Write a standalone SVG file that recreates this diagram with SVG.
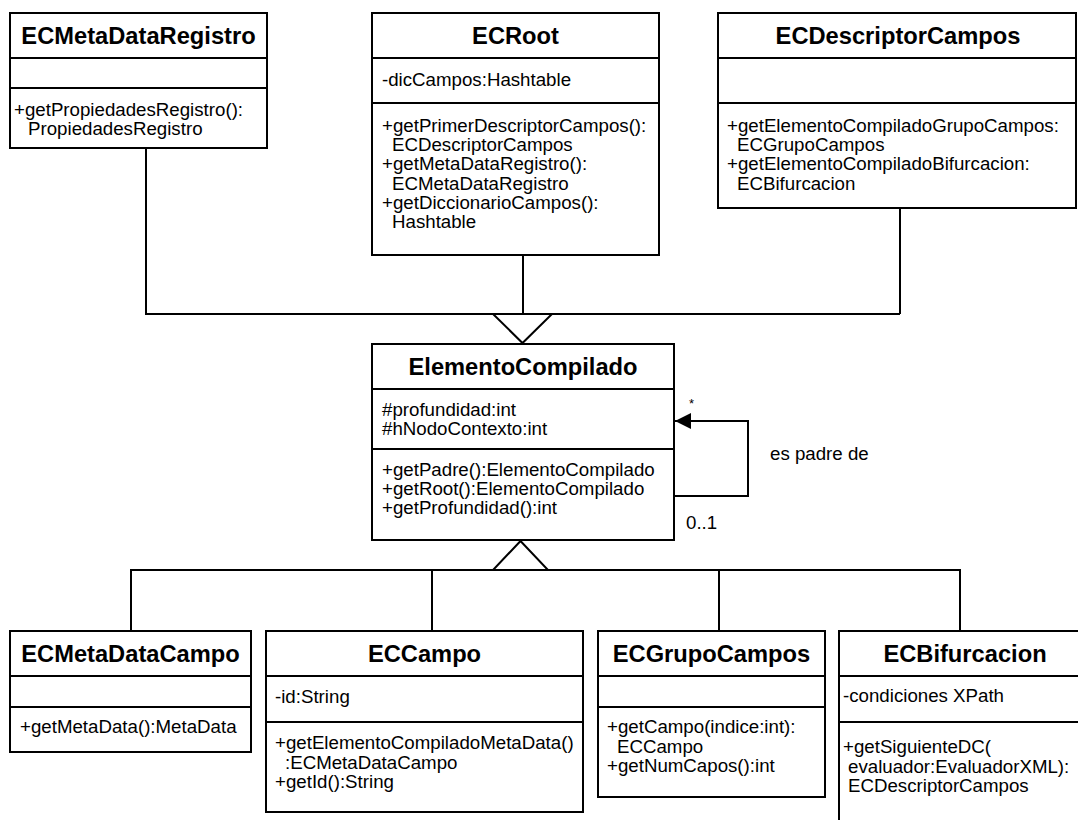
<svg xmlns="http://www.w3.org/2000/svg" width="1078" height="820" viewBox="0 0 1078 820">
<defs>
<style>
.box{fill:#fff;stroke:#000;stroke-width:2}
.ln{fill:none;stroke:#000;stroke-width:2}
.tri{fill:#fff;stroke:#000;stroke-width:2}
.t{font-family:"Liberation Sans",Arial,sans-serif;font-size:23.7px;font-weight:bold;text-anchor:middle;fill:#000}
.m{font-family:"Liberation Sans",Arial,sans-serif;font-size:18.7px;fill:#000}
.s{font-family:"Liberation Sans",Arial,sans-serif;font-size:13px;fill:#000}
</style>
<marker id="arr" markerWidth="16" markerHeight="16" refX="16" refY="8" orient="auto" markerUnits="userSpaceOnUse">
<path d="M0,0 L16,8 L0,16 Z" fill="#000"/>
</marker>
</defs>
<rect width="1078" height="820" fill="#fff"/>

<g id="connectors">
<polyline class="ln" points="146,148 146,314 900,314"/>
<line class="ln" x1="523" y1="255" x2="523" y2="314"/>
<line class="ln" x1="900" y1="208" x2="900" y2="314"/>
<polygon class="tri" points="493,314 552,314 522.5,343"/>
<polyline class="ln" points="131,631 131,570 960,570 960,631"/>
<line class="ln" x1="432" y1="570" x2="432" y2="631"/>
<line class="ln" x1="719" y1="570" x2="719" y2="631"/>
<polygon class="tri" points="493,570 548,570 520.5,541"/>
<polyline class="ln" points="674,496 748,496 748,421 675,421" marker-end="url(#arr)"/>
<text class="s" x="689" y="407.5">*</text>
<text class="m" x="770" y="460">es padre de</text>
<text class="m" x="686" y="529">0..1</text>
</g>

<g id="ECMetaDataRegistro">
<rect class="box" x="10" y="13" width="257" height="135"/>
<line class="ln" x1="10" y1="58" x2="267" y2="58"/>
<line class="ln" x1="10" y1="88" x2="267" y2="88"/>
<text class="t" x="138.5" y="44">ECMetaDataRegistro</text>
<text class="m" x="14" y="116">+getPropiedadesRegistro():</text>
<text class="m" x="28" y="135">PropiedadesRegistro</text>
</g>

<g id="ECRoot">
<rect class="box" x="372" y="13" width="287" height="242"/>
<line class="ln" x1="372" y1="58" x2="659" y2="58"/>
<line class="ln" x1="372" y1="103" x2="659" y2="103"/>
<text class="t" x="515.5" y="44">ECRoot</text>
<text class="m" x="382" y="86">-dicCampos:Hashtable</text>
<text class="m" x="382" y="132">+getPrimerDescriptorCampos():</text>
<text class="m" x="392" y="151">ECDescriptorCampos</text>
<text class="m" x="382" y="170">+getMetaDataRegistro():</text>
<text class="m" x="392" y="189.5">ECMetaDataRegistro</text>
<text class="m" x="382" y="208.5">+getDiccionarioCampos():</text>
<text class="m" x="392" y="228">Hashtable</text>
</g>

<g id="ECDescriptorCampos">
<rect class="box" x="718" y="13" width="358" height="195"/>
<line class="ln" x1="718" y1="58" x2="1076" y2="58"/>
<line class="ln" x1="718" y1="103" x2="1076" y2="103"/>
<text class="t" x="898" y="44">ECDescriptorCampos</text>
<text class="m" x="727" y="132">+getElementoCompiladoGrupoCampos:</text>
<text class="m" x="737" y="151">ECGrupoCampos</text>
<text class="m" x="727" y="170">+getElementoCompiladoBifurcacion:</text>
<text class="m" x="737" y="189.5">ECBifurcacion</text>
</g>

<g id="ElementoCompilado">
<rect class="box" x="372" y="344" width="302" height="196"/>
<line class="ln" x1="372" y1="389" x2="674" y2="389"/>
<line class="ln" x1="372" y1="449" x2="674" y2="449"/>
<text class="t" x="523" y="375">ElementoCompilado</text>
<text class="m" x="382" y="416">#profundidad:int</text>
<text class="m" x="382" y="435">#hNodoContexto:int</text>
<text class="m" x="382" y="476">+getPadre():ElementoCompilado</text>
<text class="m" x="382" y="495">+getRoot():ElementoCompilado</text>
<text class="m" x="382" y="514">+getProfundidad():int</text>
</g>

<g id="ECMetaDataCampo">
<rect class="box" x="10" y="631" width="241" height="121"/>
<line class="ln" x1="10" y1="676" x2="251" y2="676"/>
<line class="ln" x1="10" y1="707" x2="251" y2="707"/>
<text class="t" x="130.5" y="662">ECMetaDataCampo</text>
<text class="m" x="20" y="733">+getMetaData():MetaData</text>
</g>

<g id="ECCampo">
<rect class="box" x="266" y="631" width="317" height="181"/>
<line class="ln" x1="266" y1="676" x2="583" y2="676"/>
<line class="ln" x1="266" y1="722" x2="583" y2="722"/>
<text class="t" x="424.5" y="662">ECCampo</text>
<text class="m" x="275" y="703">-id:String</text>
<text class="m" x="275" y="749">+getElementoCompiladoMetaData()</text>
<text class="m" x="285" y="768.5">:ECMetaDataCampo</text>
<text class="m" x="275" y="788">+getId():String</text>
</g>

<g id="ECGrupoCampos">
<rect class="box" x="598" y="631" width="227" height="166"/>
<line class="ln" x1="598" y1="676" x2="825" y2="676"/>
<line class="ln" x1="598" y1="707" x2="825" y2="707"/>
<text class="t" x="711.5" y="662">ECGrupoCampos</text>
<text class="m" x="607" y="733">+getCampo(indice:int):</text>
<text class="m" x="617" y="752.5">ECCampo</text>
<text class="m" x="607" y="772">+getNumCapos():int</text>
</g>

<g id="ECBifurcacion">
<rect class="box" x="839" y="631" width="260" height="220"/>
<line class="ln" x1="839" y1="676" x2="1078" y2="676"/>
<line class="ln" x1="839" y1="722" x2="1078" y2="722"/>
<text class="t" x="965" y="662">ECBifurcacion</text>
<text class="m" x="843" y="702">-condiciones XPath</text>
<text class="m" x="843" y="753">+getSiguienteDC(</text>
<text class="m" x="848" y="772.5">evaluador:EvaluadorXML):</text>
<text class="m" x="848" y="792">ECDescriptorCampos</text>
</g>
</svg>
